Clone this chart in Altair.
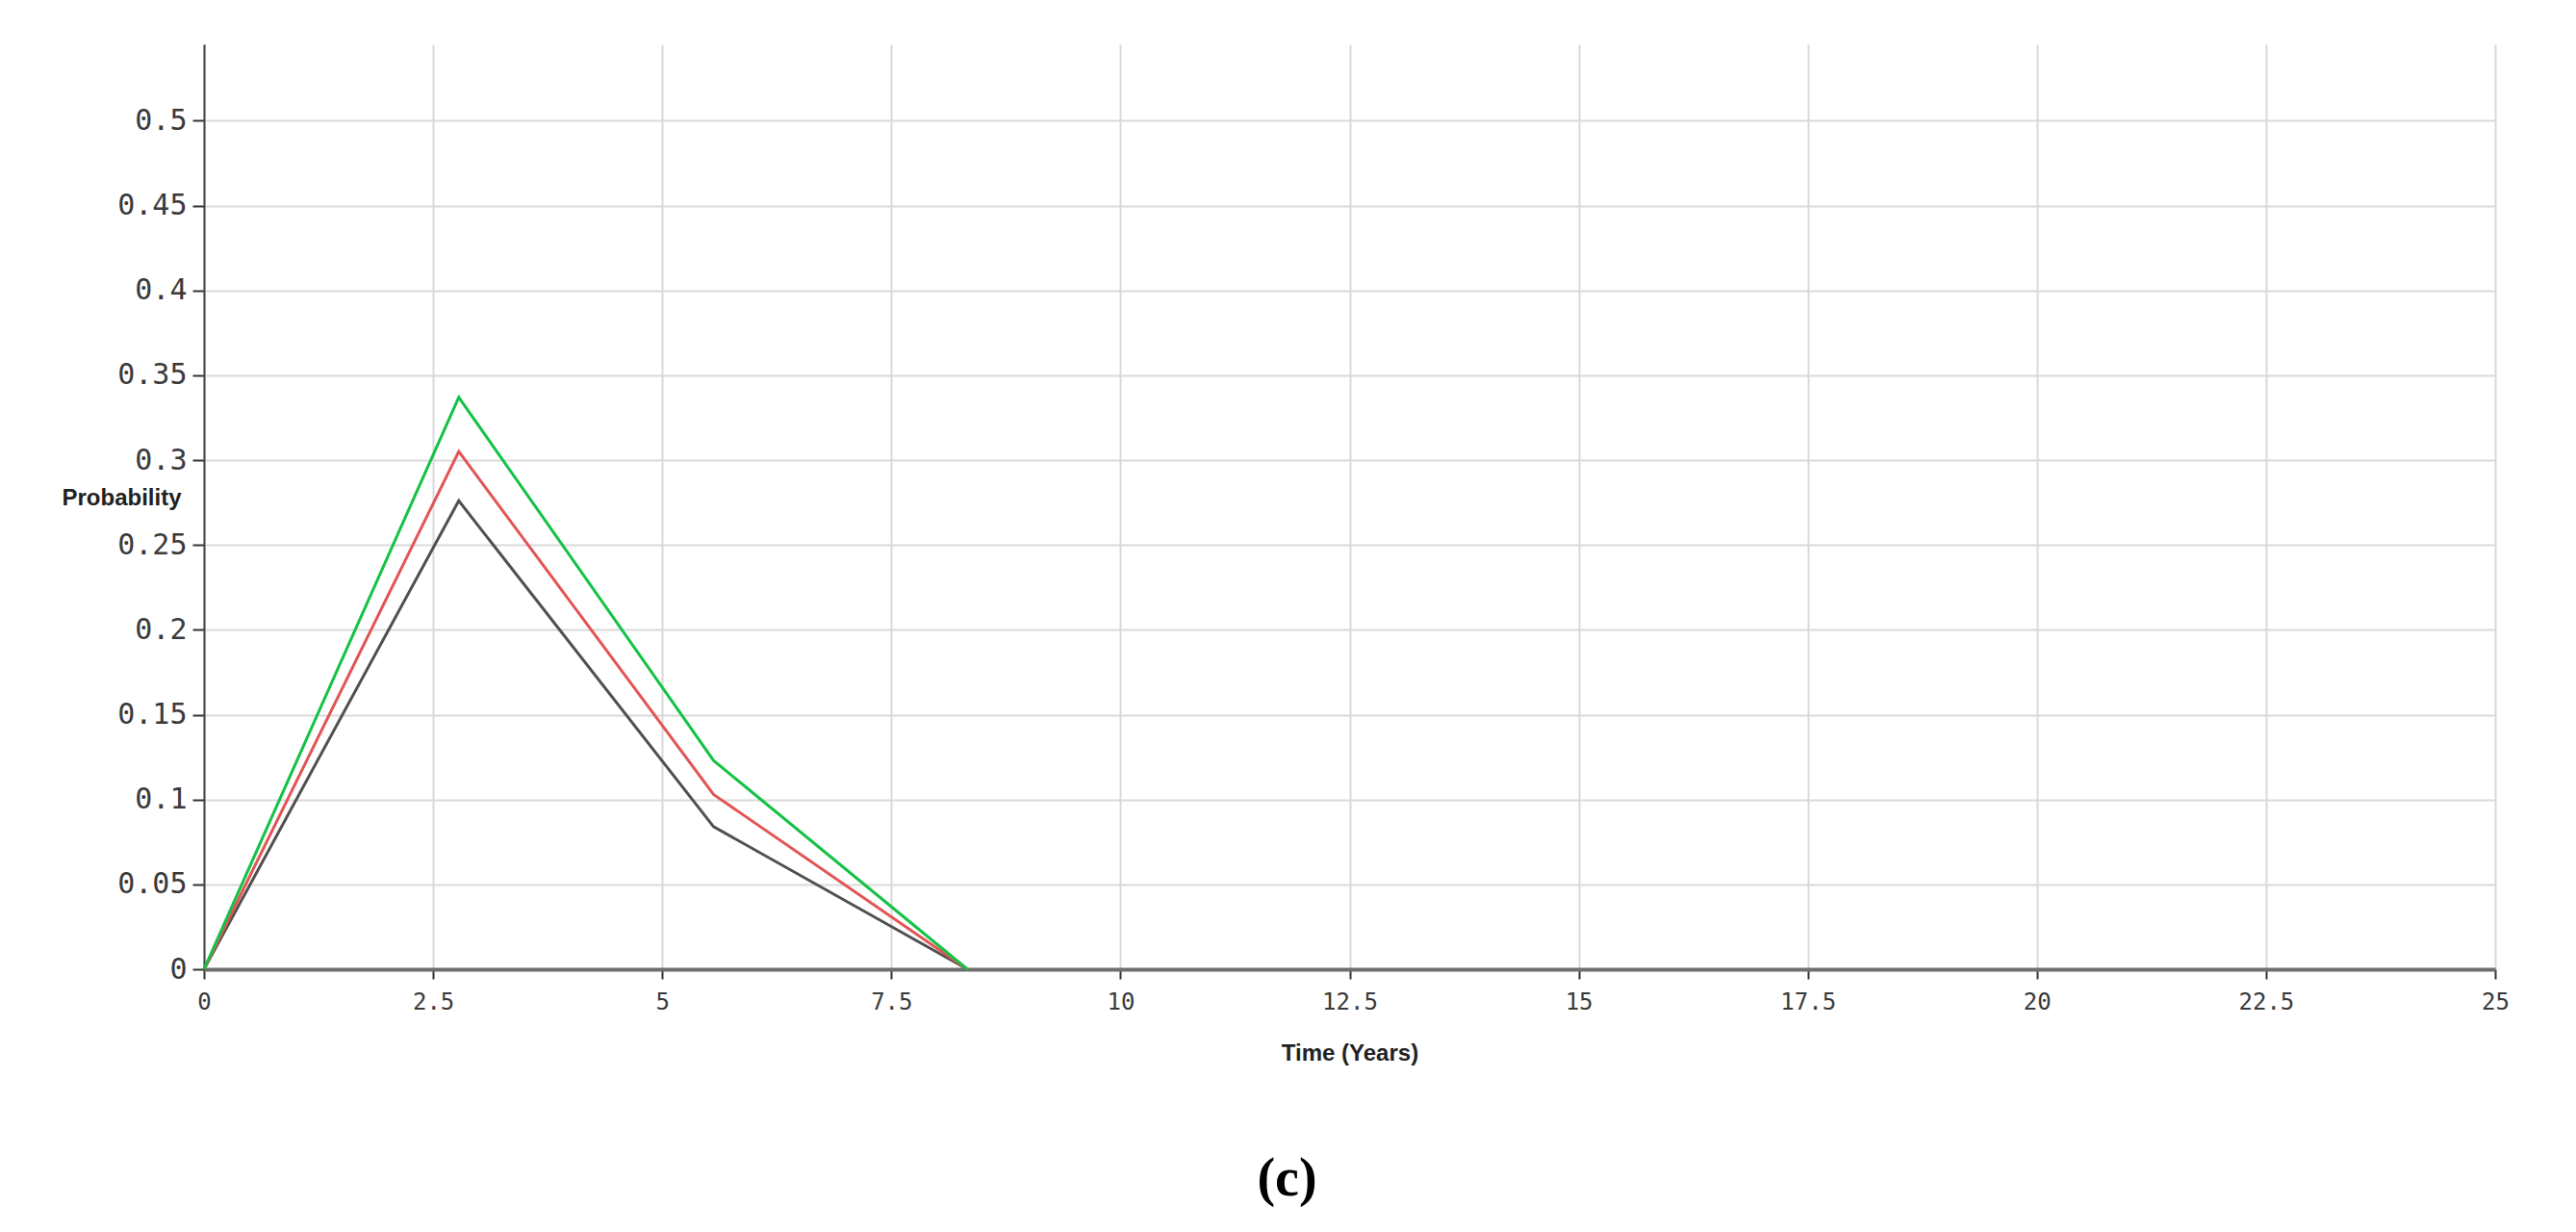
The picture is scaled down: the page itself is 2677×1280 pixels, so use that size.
import altair as alt
import pandas as pd

# ---- data ----
time_years = [0, 2.78, 5.56, 8.33]
series_names = ["Black", "Red", "Green"]
black_vals = [0, 0.276, 0.084, 0]
red_vals = [0, 0.305, 0.103, 0]
green_vals = [0, 0.337, 0.123, 0]
series_colors = ["#505050", "#e25555", "#14c246"]

x_ticks = [0, 2.5, 5, 7.5, 10, 12.5, 15, 17.5, 20, 22.5, 25]
y_ticks = [0, 0.05, 0.1, 0.15, 0.2, 0.25, 0.3, 0.35, 0.4, 0.45, 0.5]

rows = []
for name, vals in zip(series_names, [black_vals, red_vals, green_vals]):
    for i, (t, v) in enumerate(zip(time_years, vals)):
        rows.append({"series": name, "time": t, "prob": v, "idx": i})
df = pd.DataFrame(rows)

chart = alt.Chart(df).mark_line(strokeWidth=3, clip=False).encode(
    x=alt.X(
        "time:Q",
        scale=alt.Scale(domain=[0, 25], nice=False, zero=True),
        axis=alt.Axis(
            values=x_ticks, labelExpr="'' + datum.value", title="Time (Years)",
            domainColor="#6e6e6e", domainWidth=4,
            tickColor="#333333", tickSize=10, tickWidth=2,
            gridColor="#d9d9d9", gridWidth=2,
            labelFont="DejaVu Sans Mono", labelFontSize=24, labelColor="#3a3a3a",
            labelPadding=12, labelFlush=False,
            titleFont="Liberation Sans", titleFontWeight="bold", titleFontSize=24,
            titleColor="#222222", titleY=87, titleBaseline="middle",
        ),
    ),
    y=alt.Y(
        "prob:Q",
        scale=alt.Scale(domain=[0, 0.545], nice=False, zero=True),
        axis=alt.Axis(
            values=y_ticks, labelExpr="'' + datum.value", title="Probability",
            domainColor="#444444", domainWidth=2,
            tickColor="#333333", tickSize=12, tickWidth=2,
            gridColor="#d9d9d9", gridWidth=2,
            labelFont="DejaVu Sans Mono", labelFontSize=30, labelColor="#3a3a3a",
            labelPadding=6, labelFlush=False,
            titleFont="Liberation Sans", titleFontWeight="bold", titleFontSize=24,
            titleColor="#222222", titleAngle=0, titleAlign="right",
            titleBaseline="middle", titleX=-24, titleY=471,
        ),
    ),
    color=alt.Color(
        "series:N",
        scale=alt.Scale(domain=series_names, range=series_colors),
        legend=None,
    ),
    order=alt.Order("idx:Q"),
).properties(
    width=2381,
    height=961,
    padding={"left": 204, "top": 38, "right": 76, "bottom": 265},
    autosize=alt.AutoSizeParams(type="none"),
    title=alt.TitleParams(
        "(c)", orient="bottom", anchor="middle", frame="group",
        font="Liberation Serif", fontSize=56, fontWeight="bold",
        color="#000000", offset=92, dx=-65,
    ),
).configure_view(stroke="transparent")

chart.save("out.html", embed_options={"renderer": "svg", "actions": False})
